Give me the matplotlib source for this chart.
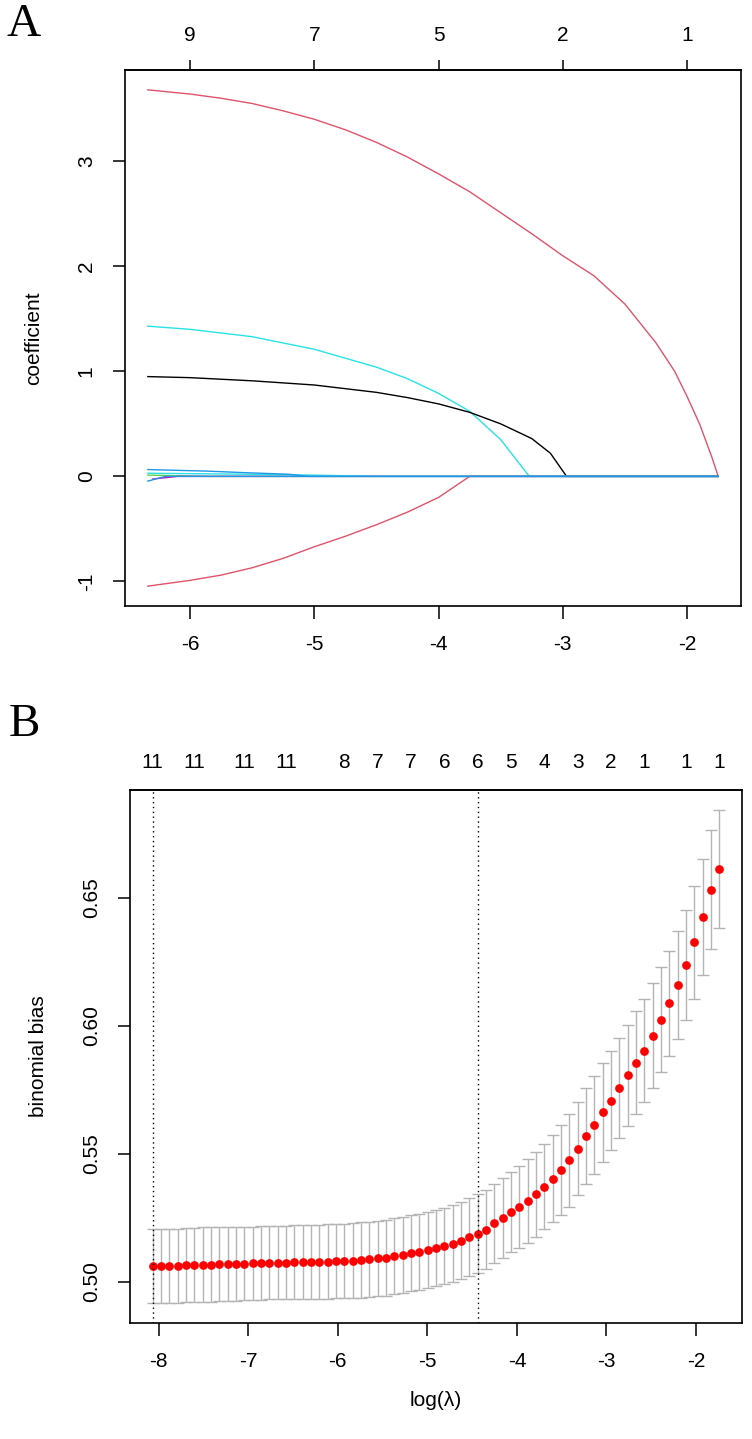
import matplotlib
matplotlib.use("Agg")
import matplotlib.pyplot as plt

plt.rcParams['font.family'] = ['Liberation Sans', 'DejaVu Sans']
plt.rcParams['axes.unicode_minus'] = False

# ---- panel A: lasso coefficient paths (log lambda, coefficient) ----
# R default palette colours used by matplot
BLACK, RED, GREEN, BLUE, CYAN, MAGENTA = "black", "#DF536B", "#61D04F", "#2297E6", "#28E2E5", "#CD0BBC"

red_top_x = [-6.34, -6.0, -5.75, -5.5, -5.25, -5.0, -4.75, -4.5, -4.25, -4.0, -3.75, -3.5, -3.25,
             -3.0, -2.75, -2.5, -2.25, -2.1, -2.0, -1.9, -1.8, -1.75]
red_top_y = [3.68, 3.64, 3.60, 3.55, 3.48, 3.40, 3.30, 3.18, 3.04, 2.88, 2.71, 2.51, 2.31,
             2.10, 1.91, 1.64, 1.27, 1.00, 0.76, 0.50, 0.18, 0.0]

cyan_x = [-6.34, -6.0, -5.5, -5.0, -4.5, -4.25, -4.0, -3.75, -3.5, -3.27, -1.75]
cyan_y = [1.43, 1.40, 1.33, 1.21, 1.04, 0.93, 0.79, 0.62, 0.35, 0.0, 0.0]

black_x = [-6.34, -6.0, -5.5, -5.0, -4.5, -4.25, -4.0, -3.75, -3.5, -3.25, -3.1, -2.97, -1.75]
black_y = [0.95, 0.94, 0.91, 0.87, 0.80, 0.75, 0.69, 0.61, 0.50, 0.36, 0.22, 0.0, 0.0]

red_bot_x = [-6.34, -6.0, -5.75, -5.5, -5.25, -5.0, -4.75, -4.5, -4.25, -4.0, -3.75, -1.75]
red_bot_y = [-1.045, -0.99, -0.94, -0.87, -0.78, -0.67, -0.57, -0.46, -0.34, -0.20, 0.0, 0.0]

green_x = [-6.34, -5.86, -1.75]
green_y = [0.012, 0.0, 0.0]

magenta_x = [-6.30, -6.10, -1.75]
magenta_y = [-0.025, 0.0, 0.0]

cyan_small_x = [-6.34, -5.5, -5.0, -4.5, -1.75]
cyan_small_y = [0.03, 0.02, 0.012, 0.0, 0.0]

blue_small_x = [-6.34, -5.86, -5.55, -5.2, -5.05, -1.75]
blue_small_y = [0.065, 0.05, 0.035, 0.02, 0.0, 0.0]

blue_neg_x = [-6.34, -6.2, -1.75]
blue_neg_y = [-0.045, 0.0, 0.0]

a_top_ticks = [-6, -5, -4, -3, -2]
a_top_labels = ["9", "7", "5", "2", "1"]

# ---- panel B: cross-validation curve ----
log_lambda = [-8.066, -7.973, -7.880, -7.787, -7.694, -7.601, -7.508, -7.415, -7.322, -7.229,
              -7.136, -7.043, -6.950, -6.857, -6.764, -6.671, -6.577, -6.484, -6.391, -6.298,
              -6.205, -6.112, -6.019, -5.926, -5.833, -5.740, -5.647, -5.554, -5.461, -5.368,
              -5.275, -5.182, -5.089, -4.996, -4.903, -4.810, -4.717, -4.624, -4.531, -4.438,
              -4.345, -4.252, -4.159, -4.066, -3.973, -3.880, -3.787, -3.694, -3.601, -3.508,
              -3.415, -3.322, -3.229, -3.136, -3.043, -2.949, -2.856, -2.763, -2.670, -2.577,
              -2.484, -2.391, -2.298, -2.205, -2.112, -2.019, -1.926, -1.833, -1.740]
cv_mean = [0.5060, 0.5060, 0.5060, 0.5060, 0.5064, 0.5065, 0.5066, 0.5066, 0.5067, 0.5068,
           0.5069, 0.5070, 0.5071, 0.5072, 0.5073, 0.5073, 0.5074, 0.5075, 0.5075, 0.5076,
           0.5077, 0.5078, 0.5079, 0.5080, 0.5082, 0.5084, 0.5087, 0.5090, 0.5093, 0.5099,
           0.5104, 0.5110, 0.5115, 0.5122, 0.5130, 0.5139, 0.5147, 0.5160, 0.5173, 0.5186,
           0.5203, 0.5227, 0.5247, 0.5270, 0.5292, 0.5314, 0.5341, 0.5370, 0.5402, 0.5435,
           0.5474, 0.5518, 0.5568, 0.5612, 0.5661, 0.5706, 0.5755, 0.5805, 0.5855, 0.5902,
           0.5961, 0.6022, 0.6087, 0.6159, 0.6237, 0.6325, 0.6425, 0.6530, 0.6612]
cv_se = [0.0145, 0.0145, 0.0145, 0.0145, 0.0145, 0.0145, 0.0145, 0.0145, 0.0144, 0.0144,
         0.0144, 0.0143, 0.0143, 0.0143, 0.0143, 0.0143, 0.0143, 0.0144, 0.0144, 0.0144,
         0.0145, 0.0145, 0.0145, 0.0146, 0.0146, 0.0147, 0.0147, 0.0147, 0.0148, 0.0148,
         0.0148, 0.0148, 0.0148, 0.0149, 0.0149, 0.0150, 0.0150, 0.0151, 0.0152, 0.0154,
         0.0156, 0.0154, 0.0157, 0.0156, 0.0161, 0.0163, 0.0166, 0.0166, 0.0171, 0.0176,
         0.0181, 0.0182, 0.0186, 0.0191, 0.0193, 0.0193, 0.0196, 0.0198, 0.0200, 0.0202,
         0.0204, 0.0205, 0.0206, 0.0210, 0.0215, 0.0221, 0.0226, 0.0232, 0.0231]
lambda_min_idx = 0
lambda_1se_idx = 39

b_top_idx = [0, 5, 11, 16, 23, 27, 31, 35, 39, 43, 47, 51, 55, 59, 64, 68]
b_top_labels = ["11", "11", "11", "11", "8", "7", "7", "6", "6", "5", "4", "3", "2", "1", "1", "1"]

FS = 15
W, H = 752, 1439
fig = plt.figure(figsize=(W / 100, H / 100), dpi=100)

def frac(l, t, r, b):
    return [l / W, 1 - b / H, (r - l) / W, (b - t) / H]

# ---------- A ----------
ax = fig.add_axes(frac(125, 70, 741, 606))
paths = [
    (red_top_x, red_top_y, RED), (cyan_x, cyan_y, CYAN), (black_x, black_y, BLACK),
    (green_x, green_y, GREEN), (magenta_x, magenta_y, MAGENTA), (red_bot_x, red_bot_y, RED),
    (cyan_small_x, cyan_small_y, CYAN), (blue_small_x, blue_small_y, BLUE), (blue_neg_x, blue_neg_y, BLUE),
]
for px, py, c in paths:
    ax.plot(px, py, color=c, lw=1.0)
ax.margins(x=0.04, y=0.04)
ax.set_xticks([-6, -5, -4, -3, -2])
ax.set_yticks([-1, 0, 1, 2, 3])
ax.set_ylabel("coefficient", fontsize=FS, labelpad=24)
ax.tick_params(axis="both", labelsize=FS, length=9, width=1.1, direction="out")
ax.tick_params(axis="x", pad=12)
ax.tick_params(axis="y", pad=12)
for lab in ax.get_yticklabels():
    lab.set_rotation(90)
    lab.set_va("center")
for s in ax.spines.values():
    s.set_linewidth(1.2)
top = ax.secondary_xaxis("top")
top.set_xticks(a_top_ticks, labels=a_top_labels)
top.tick_params(labelsize=FS, length=7, width=1.1, pad=11)
top.spines["top"].set_linewidth(1.2)
fig.text(24 / W, 1 - 25 / H, "A", fontsize=34, family="Liberation Serif", ha="center", va="center")

# ---------- B ----------
bx = fig.add_axes(frac(130, 790, 742, 1323))
bx.errorbar(log_lambda, cv_mean, yerr=cv_se, fmt="none", ecolor="#B4B4B4",
            elinewidth=1.0, capsize=4, capthick=1.0)
bx.plot(log_lambda, cv_mean, "o", color="red", markersize=6.3, markeredgewidth=0)
bx.margins(x=0.04, y=0.04)
bx.axvline(log_lambda[lambda_min_idx], color="black", ls=(0, (1, 2.5)), lw=1.0)
bx.axvline(log_lambda[lambda_1se_idx], color="black", ls=(0, (1, 2.5)), lw=1.0)
bx.set_xticks([-8, -7, -6, -5, -4, -3, -2])
bx.set_yticks([0.50, 0.55, 0.60, 0.65])
bx.set_yticklabels(["0.50", "0.55", "0.60", "0.65"])
bx.set_xlabel("log(λ)", fontsize=FS, labelpad=14)
bx.set_ylabel("binomial bias", fontsize=FS, labelpad=24)
bx.tick_params(axis="both", labelsize=FS, length=9, width=1.1, direction="out")
bx.tick_params(axis="x", pad=12)
bx.tick_params(axis="y", pad=12)
for lab in bx.get_yticklabels():
    lab.set_rotation(90)
    lab.set_va("center")
for s in bx.spines.values():
    s.set_linewidth(1.2)
btop = bx.secondary_xaxis("top")
btop.set_xticks([log_lambda[i] for i in b_top_idx], labels=b_top_labels)
btop.tick_params(labelsize=FS, length=0, pad=13)
btop.spines["top"].set_linewidth(1.2)
fig.text(24 / W, 1 - 725 / H, "B", fontsize=34, family="Liberation Serif", ha="center", va="center")

fig.savefig("out.png", dpi=100)
